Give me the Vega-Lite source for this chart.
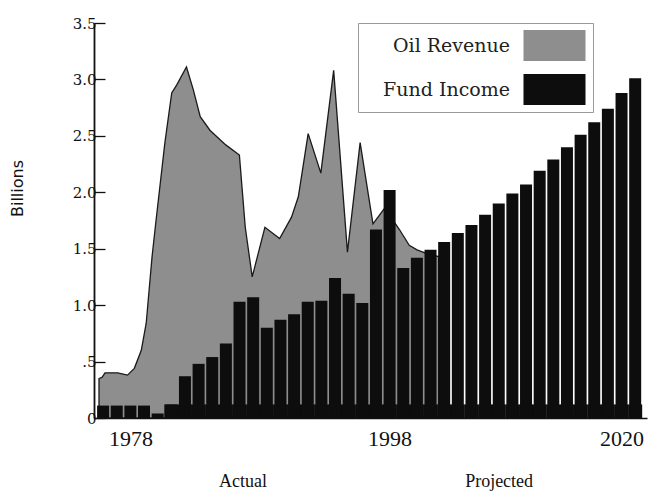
{
  "$schema": "https://vega.github.io/schema/vega-lite/v6.json",
  "width": 553,
  "height": 395,
  "autosize": {"type": "none"},
  "padding": {"left": 94, "top": 23, "right": 1, "bottom": 74},
  "background": "white",
  "config": {"view": {"stroke": null}, "font": "DejaVu Serif"},
  "datasets": {
    "oil": [
      {"t": -6.3, "revenue": 0.35, "series": "Oil Revenue"},
      {"t": -6.08, "revenue": 0.36, "series": "Oil Revenue"},
      {"t": -5.86, "revenue": 0.40, "series": "Oil Revenue"},
      {"t": -4.93, "revenue": 0.40, "series": "Oil Revenue"},
      {"t": -4.21, "revenue": 0.38, "series": "Oil Revenue"},
      {"t": -3.71, "revenue": 0.44, "series": "Oil Revenue"},
      {"t": -3.2, "revenue": 0.60, "series": "Oil Revenue"},
      {"t": -2.84, "revenue": 0.84, "series": "Oil Revenue"},
      {"t": -2.63, "revenue": 1.13, "series": "Oil Revenue"},
      {"t": -2.41, "revenue": 1.43, "series": "Oil Revenue"},
      {"t": -2.12, "revenue": 1.75, "series": "Oil Revenue"},
      {"t": -1.47, "revenue": 2.44, "series": "Oil Revenue"},
      {"t": -0.97, "revenue": 2.88, "series": "Oil Revenue"},
      {"t": -0.61, "revenue": 2.95, "series": "Oil Revenue"},
      {"t": 0.11, "revenue": 3.11, "series": "Oil Revenue"},
      {"t": 0.61, "revenue": 2.91, "series": "Oil Revenue"},
      {"t": 1.12, "revenue": 2.67, "series": "Oil Revenue"},
      {"t": 1.83, "revenue": 2.55, "series": "Oil Revenue"},
      {"t": 2.99, "revenue": 2.42, "series": "Oil Revenue"},
      {"t": 3.99, "revenue": 2.33, "series": "Oil Revenue"},
      {"t": 4.42, "revenue": 1.69, "series": "Oil Revenue"},
      {"t": 4.93, "revenue": 1.25, "series": "Oil Revenue"},
      {"t": 5.86, "revenue": 1.69, "series": "Oil Revenue"},
      {"t": 6.94, "revenue": 1.59, "series": "Oil Revenue"},
      {"t": 7.81, "revenue": 1.78, "series": "Oil Revenue"},
      {"t": 8.31, "revenue": 1.96, "series": "Oil Revenue"},
      {"t": 9.03, "revenue": 2.52, "series": "Oil Revenue"},
      {"t": 9.96, "revenue": 2.17, "series": "Oil Revenue"},
      {"t": 10.9, "revenue": 3.08, "series": "Oil Revenue"},
      {"t": 11.91, "revenue": 1.47, "series": "Oil Revenue"},
      {"t": 12.84, "revenue": 2.44, "series": "Oil Revenue"},
      {"t": 13.78, "revenue": 1.72, "series": "Oil Revenue"},
      {"t": 14.64, "revenue": 1.86, "series": "Oil Revenue"},
      {"t": 15.72, "revenue": 1.67, "series": "Oil Revenue"},
      {"t": 16.44, "revenue": 1.53, "series": "Oil Revenue"},
      {"t": 17.01, "revenue": 1.49, "series": "Oil Revenue"},
      {"t": 17.88, "revenue": 1.45, "series": "Oil Revenue"},
      {"t": 18.6, "revenue": 1.43, "series": "Oil Revenue"}
    ],
    "fund": [
      {"t": -6, "income": 0.11, "series": "Fund Income"},
      {"t": -5, "income": 0.11, "series": "Fund Income"},
      {"t": -4, "income": 0.11, "series": "Fund Income"},
      {"t": -3, "income": 0.11, "series": "Fund Income"},
      {"t": -2, "income": 0.04, "series": "Fund Income"},
      {"t": -1, "income": 0.12, "floor": 0.12, "series": "Fund Income"},
      {"t": 0, "income": 0.37, "floor": 0.12, "series": "Fund Income"},
      {"t": 1, "income": 0.48, "floor": 0.12, "series": "Fund Income"},
      {"t": 2, "income": 0.54, "floor": 0.12, "series": "Fund Income"},
      {"t": 3, "income": 0.66, "floor": 0.12, "series": "Fund Income"},
      {"t": 4, "income": 1.03, "floor": 0.12, "series": "Fund Income"},
      {"t": 5, "income": 1.07, "floor": 0.12, "series": "Fund Income"},
      {"t": 6, "income": 0.80, "floor": 0.12, "series": "Fund Income"},
      {"t": 7, "income": 0.87, "floor": 0.12, "series": "Fund Income"},
      {"t": 8, "income": 0.92, "floor": 0.12, "series": "Fund Income"},
      {"t": 9, "income": 1.03, "floor": 0.12, "series": "Fund Income"},
      {"t": 10, "income": 1.04, "floor": 0.12, "series": "Fund Income"},
      {"t": 11, "income": 1.24, "floor": 0.12, "series": "Fund Income"},
      {"t": 12, "income": 1.10, "floor": 0.12, "series": "Fund Income"},
      {"t": 13, "income": 1.02, "floor": 0.12, "series": "Fund Income"},
      {"t": 14, "income": 1.67, "floor": 0.12, "series": "Fund Income"},
      {"t": 15, "income": 2.02, "floor": 0.12, "series": "Fund Income"},
      {"t": 16, "income": 1.33, "floor": 0.12, "series": "Fund Income"},
      {"t": 17, "income": 1.42, "floor": 0.12, "series": "Fund Income"},
      {"t": 18, "income": 1.49, "floor": 0.12, "series": "Fund Income"},
      {"t": 19, "income": 1.56, "floor": 0.12, "series": "Fund Income"},
      {"t": 20, "income": 1.64, "floor": 0.12, "series": "Fund Income"},
      {"t": 21, "income": 1.71, "floor": 0.12, "series": "Fund Income"},
      {"t": 22, "income": 1.80, "floor": 0.12, "series": "Fund Income"},
      {"t": 23, "income": 1.90, "floor": 0.12, "series": "Fund Income"},
      {"t": 24, "income": 1.99, "floor": 0.12, "series": "Fund Income"},
      {"t": 25, "income": 2.07, "floor": 0.12, "series": "Fund Income"},
      {"t": 26, "income": 2.19, "floor": 0.12, "series": "Fund Income"},
      {"t": 27, "income": 2.29, "floor": 0.12, "series": "Fund Income"},
      {"t": 28, "income": 2.40, "floor": 0.12, "series": "Fund Income"},
      {"t": 29, "income": 2.51, "floor": 0.12, "series": "Fund Income"},
      {"t": 30, "income": 2.62, "floor": 0.12, "series": "Fund Income"},
      {"t": 31, "income": 2.74, "floor": 0.12, "series": "Fund Income"},
      {"t": 32, "income": 2.88, "floor": 0.12, "series": "Fund Income"},
      {"t": 33, "income": 3.01, "floor": 0.12, "series": "Fund Income"}
    ]
  },
  "layer": [
    {
      "data": {"name": "oil"},
      "mark": {"type": "area", "stroke": "#1a1a1a", "strokeWidth": 1.3, "clip": true, "opacity": 1},
      "encoding": {
        "x": {
          "field": "t", "type": "quantitative",
          "scale": {"domain": [-6.3, 33.5], "nice": false, "zero": false},
          "axis": {
            "values": [-4, 15, 32],
            "labelExpr": "datum.value == -4 ? '1978' : datum.value == 15 ? '1998' : '2020'",
            "ticks": false, "grid": false, "title": null,
            "domain": true, "domainColor": "#111", "domainWidth": 1.5,
            "labelFont": "Liberation Serif", "labelFontSize": 22, "labelColor": "#111",
            "labelPadding": 10, "labelOverlap": false
          }
        },
        "y": {
          "field": "revenue", "type": "quantitative",
          "scale": {"domain": [0, 3.5], "nice": false},
          "axis": {
            "values": [0, 0.5, 1, 1.5, 2, 2.5, 3, 3.5],
            "labelExpr": "datum.value == 0 ? '0' : datum.value == 0.5 ? '.5' : format(datum.value, '.1f')",
            "tickSize": -11, "tickColor": "#111", "tickWidth": 1.3,
            "domainColor": "#111", "domainWidth": 1.8, "grid": false,
            "labelFont": "DejaVu Serif", "labelFontSize": 15, "labelColor": "#111", "labelPadding": 9,
            "title": "Billions", "titleFont": "DejaVu Sans", "titleFontSize": 16, "titleFontWeight": "normal",
            "titleColor": "#111", "titleX": -77, "titleY": 165, "titleAngle": -90, "titleBaseline": "middle", "titleAlign": "center"
          }
        },
        "color": {
          "field": "series", "type": "nominal",
          "scale": {"domain": ["Oil Revenue", "Fund Income"], "range": ["#8e8e8e", "#0d0d0d"]},
          "legend": {
            "orient": "none", "legendX": 264, "legendY": 0, "title": null, "direction": "vertical",
            "symbolType": "M-2,-1H2V1H-2Z", "symbolSize": 961, "symbolStrokeWidth": 0, "symbolOpacity": 1,
            "labelFont": "DejaVu Serif", "labelFontSize": 19, "labelColor": "#222",
            "labelAlign": "right", "labelOffset": -60, "symbolOffset": 174, "rowPadding": 13,
            "padding": 7, "strokeColor": "#999", "fillColor": "#fff", "labelLimit": 300
          }
        }
      }
    },
    {
      "data": {"name": "fund"},
      "mark": {"type": "bar", "size": 14, "color": "#0d0d0d", "clip": true},
      "encoding": {
        "x": {"field": "t", "type": "quantitative", "axis": null},
        "y": {"field": "floor", "type": "quantitative"}
      }
    },
    {
      "data": {"name": "fund"},
      "mark": {"type": "bar", "size": 12, "clip": true},
      "encoding": {
        "x": {
          "field": "t", "type": "quantitative",
          "axis": {
            "orient": "bottom", "values": [4.21, 22.99],
            "labelExpr": "datum.value < 10 ? 'Actual' : 'Projected'",
            "ticks": false, "domain": false, "grid": false, "title": null,
            "labelFont": "Liberation Serif", "labelFontSize": 18, "labelColor": "#111",
            "labelPadding": 54, "labelOverlap": false
          }
        },
        "y": {"field": "income", "type": "quantitative"},
        "color": {"field": "series", "type": "nominal"}
      }
    }
  ],
  "resolve": {"axis": {"x": "independent"}}
}
